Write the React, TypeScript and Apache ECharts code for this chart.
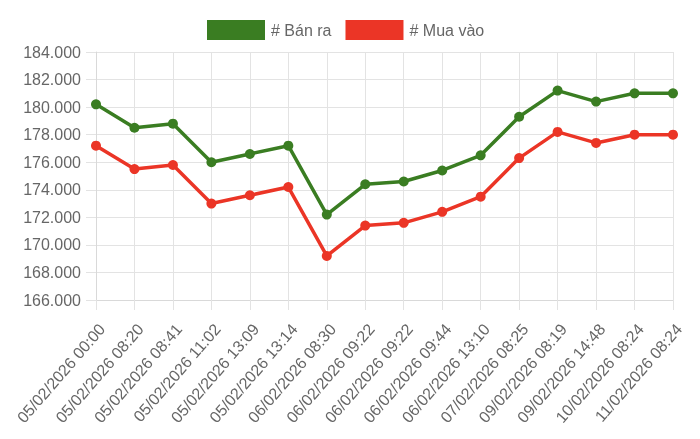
import React, { useEffect, useRef } from "react";
import * as echarts from "echarts";

const categories = [
  "05/02/2026 00:00",
  "05/02/2026 08:20",
  "05/02/2026 08:41",
  "05/02/2026 11:02",
  "05/02/2026 13:09",
  "05/02/2026 13:14",
  "06/02/2026 08:30",
  "06/02/2026 09:22",
  "06/02/2026 09:22",
  "06/02/2026 09:44",
  "06/02/2026 13:10",
  "07/02/2026 08:25",
  "09/02/2026 08:19",
  "09/02/2026 14:48",
  "10/02/2026 08:24",
  "11/02/2026 08:24",
];

const banRa = [
  180200, 178500, 178800, 176000, 176600, 177200, 172200, 174400, 174600,
  175400, 176500, 179300, 181200, 180400, 181000, 181000,
];

const muaVao = [
  177200, 175500, 175800, 173000, 173600, 174200, 169200, 171400, 171600,
  172400, 173500, 176300, 178200, 177400, 178000, 178000,
];

const yMin = 166000;
const yMax = 184000;
const yStep = 2000;

const fmt = (v: number) =>
  String(Math.round(v)).replace(/\B(?=(\d{3})+(?!\d))/g, ".");

export default function App() {
  const ref = useRef<HTMLDivElement>(null);
  useEffect(() => {
    if (!ref.current) return;
    const chart = echarts.init(ref.current, undefined, { renderer: "svg" });
    const font = "'Liberation Sans', Arial, Helvetica, sans-serif";
    const gridColor = "#e3e3e3";
    chart.setOption({
      animation: false,
      textStyle: { fontFamily: font },
      legend: {
        top: 15,
        left: 202,
        icon: "rect",
        itemWidth: 58,
        itemHeight: 20,
        itemGap: 14,
        textStyle: { fontSize: 16, color: "#666", fontFamily: font, padding: [0, 0, 0, 1] },
        data: ["# Bán ra", "# Mua vào"],
      },
      grid: { left: 96, right: 27, top: 52, bottom: 139, containLabel: false },
      xAxis: {
        type: "category",
        data: categories,
        boundaryGap: false,
        axisLine: { show: true, lineStyle: { color: "#d9d9d9", width: 1 } },
        axisTick: { show: true, length: 10, lineStyle: { color: gridColor } },
        splitLine: { show: true, lineStyle: { color: gridColor } },
        axisLabel: {
          rotate: 49,
          margin: 21,
          fontSize: 16,
          color: "#666",
          fontFamily: font,
          interval: 0,
          verticalAlign: "top",
        },
      },
      yAxis: {
        type: "value",
        min: yMin,
        max: yMax,
        interval: yStep,
        axisLine: { show: true, lineStyle: { color: "#d9d9d9" } },
        axisTick: { show: true, length: 10, lineStyle: { color: gridColor } },
        splitLine: { show: true, lineStyle: { color: gridColor } },
        axisLabel: {
          fontSize: 16,
          color: "#666",
          margin: 15,
          fontFamily: font,
          formatter: (v: number) => fmt(v),
        },
      },
      series: [
        {
          name: "# Bán ra",
          type: "line",
          data: banRa,
          symbol: "circle",
          symbolSize: 10,
          lineStyle: { width: 3.5, color: "#3a7d22" },
          itemStyle: { color: "#3a7d22" },
        },
        {
          name: "# Mua vào",
          type: "line",
          data: muaVao,
          symbol: "circle",
          symbolSize: 10,
          lineStyle: { width: 3.5, color: "#eb3526" },
          itemStyle: { color: "#eb3526" },
        },
      ],
    });
    return () => chart.dispose();
  }, []);
  return (
    <div
      ref={ref}
      style={{ position: "fixed", left: 0, top: 0, width: 700, height: 439 }}
    />
  );
}
